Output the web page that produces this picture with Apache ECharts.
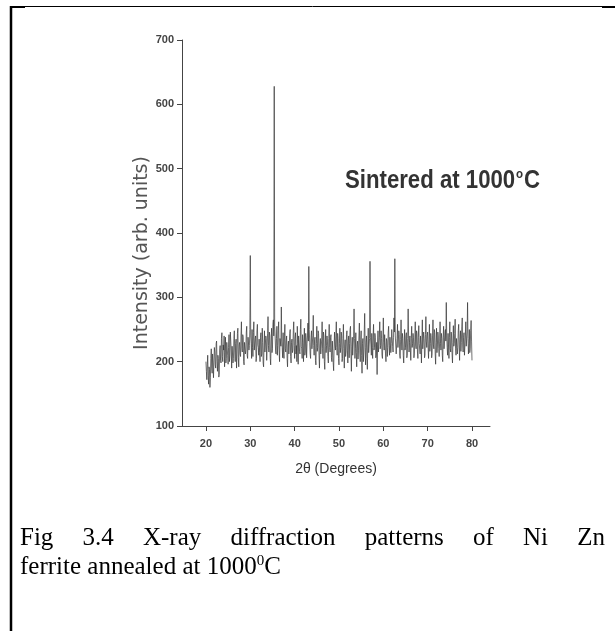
<!DOCTYPE html>
<html><head><meta charset="utf-8">
<script src="https://cdn.jsdelivr.net/npm/echarts@6/dist/echarts.min.js"></script>
<style>html,body{margin:0;padding:0;background:#fff}#c{width:615px;height:631px}</style>
</head><body><div id="c"></div>
<script>
// ---- data ----
const twoThetaStart = 20.0;   // degrees
const twoThetaStep = 0.1;     // degrees between readings
const intensity = [
  200,185,172,195,210,178,165,192,188,160,175,205,220,190,182,212,198,175,178,222,
  215,195,190,228,232,200,185,210,205,176,180,218,225,202,198,236,245,208,200,226,
  218,240,192,214,238,198,205,230,228,210,196,222,242,200,210,246,232,215,190,224,
  225,198,205,236,248,215,200,228,235,190,212,244,252,206,192,226,230,212,208,240,
  262,220,215,242,238,200,195,230,232,212,218,246,255,210,205,238,240,218,225,250,
  365,240,228,205,250,222,208,245,262,218,215,236,240,200,205,248,258,226,222,210,
  235,214,200,238,245,208,212,252,230,198,192,226,248,215,218,240,236,202,205,244,
  270,225,215,246,240,205,195,232,252,214,220,258,265,240,628,255,240,218,212,236,
  255,210,225,248,262,218,200,236,238,224,285,232,222,206,245,215,205,240,258,220,
  215,232,240,205,192,226,232,212,210,244,250,208,198,230,235,214,218,248,262,225,
  205,236,245,212,225,200,255,228,196,240,238,216,212,250,266,224,220,205,242,230,
  200,228,252,210,215,244,235,206,228,240,260,232,348,250,230,212,205,238,248,220,
  218,240,272,225,210,234,238,202,195,228,255,216,222,248,244,210,190,226,236,212,
  212,234,262,220,205,246,240,200,188,224,250,214,225,240,232,208,198,236,258,222,
  215,238,242,206,200,232,230,198,186,220,246,226,218,240,262,222,210,244,236,205,
  195,228,252,214,222,246,240,200,205,236,258,220,190,226,234,208,215,242,248,218,
  198,232,240,206,228,250,255,212,185,224,238,210,212,240,282,236,205,220,245,214,
  192,226,232,204,218,240,260,215,200,234,248,210,182,228,236,200,215,246,275,222,
  195,230,240,205,188,226,252,214,215,236,356,238,226,210,244,222,205,240,258,218,
  222,244,238,206,210,230,180,226,248,215,212,238,262,220,225,248,236,210,205,232,
  268,230,218,242,245,212,200,236,232,208,222,246,255,225,210,238,240,214,228,250,
  250,224,215,238,268,246,360,240,240,212,210,236,258,222,225,248,242,210,205,234,
  265,232,218,244,236,210,198,226,250,218,222,240,245,206,210,236,282,240,215,230,
  240,218,202,236,255,222,228,244,238,206,212,232,262,226,220,248,244,215,205,238,
  256,228,230,212,240,226,198,234,265,220,218,246,236,206,210,242,270,232,222,240,
  246,222,205,234,258,216,228,244,238,206,212,240,265,226,220,250,245,212,196,230,
  252,214,226,246,240,220,208,232,262,228,218,244,236,210,200,238,255,220,232,246,
  250,232,292,240,222,210,244,226,205,238,262,220,215,246,240,212,198,230,256,224,
  228,244,266,220,210,236,238,212,222,248,258,226,202,234,248,216,230,254,268,226,
  215,238,245,210,208,240,262,224,225,246,292,236,212,228,250,214,220,248,264,232,
  202
];
const xTickLabels = [20, 30, 40, 50, 60, 70, 80];
const yTickLabels = [100, 200, 300, 400, 500, 600, 700];
const xAxisTitle = '2θ (Degrees)';
const yAxisTitle = 'Intensity (arb. units)';
const annotation = ['Sintered at 1000', 'o', 'C'];
const captionLine1 = ['Fig', '3.4', 'X-ray', 'diffraction', 'patterns', 'of', 'Ni', 'Zn'];
const captionLine2 = ['ferrite annealed at 1000', '0', 'C'];

// ---- build ----
const points = intensity.map((v, i) => [+(twoThetaStart + i * twoThetaStep).toFixed(1), v]);

const serif = '"Liberation Serif","Times New Roman",serif';
const sans = '"Liberation Sans",Arial,sans-serif';
const capSize = 25;
const ctx = document.createElement('canvas').getContext('2d');
ctx.font = capSize + 'px ' + serif;
const widths = captionLine1.map(w => ctx.measureText(w).width);
const lineLeft = 20, lineRight = 605;
const gap = (lineRight - lineLeft - widths.reduce((a, b) => a + b, 0)) / (captionLine1.length - 1);
let cx = lineLeft;
const captionEls = captionLine1.map((w, i) => {
  const el = {type: 'text', x: cx, y: 538, style: {text: w, font: capSize + 'px ' + serif, fill: '#000', verticalAlign: 'middle', align: 'left'}};
  cx += widths[i] + gap;
  return el;
});
captionEls.push({
  type: 'text', x: lineLeft, y: 567,
  style: {
    text: '{n|' + captionLine2[0] + '}{s|' + captionLine2[1] + '}{n|' + captionLine2[2] + '}',
    verticalAlign: 'middle', align: 'left',
    rich: {
      n: {font: capSize + 'px ' + serif, fill: '#000'},
      s: {font: '15px ' + serif, fill: '#000', verticalAlign: 'top', padding: [0, 0, 12, 0]}
    }
  }
});

// annotation, horizontally condensed to match the narrow bold face of the original
const annSize = 25;
ctx.font = 'bold ' + annSize + 'px ' + sans;
let annW = ctx.measureText(annotation[0] + annotation[2]).width;
ctx.font = 'bold 13px ' + sans;
annW += ctx.measureText(annotation[1]).width + 2;
const annScale = 195 / annW;
const annotationEl = {
  type: 'text', x: 345, y: 181, scaleX: annScale,
  style: {
    text: '{a|' + annotation[0] + '}{s|' + annotation[1] + '}{a|' + annotation[2] + '}',
    verticalAlign: 'middle', align: 'left',
    rich: {
      a: {font: 'bold ' + annSize + 'px ' + sans, fill: '#333'},
      s: {font: 'bold 13px ' + sans, fill: '#333', verticalAlign: 'top', padding: [0, 1, 14, 1]}
    }
  }
};

const chart = echarts.init(document.getElementById('c'), null, {renderer: 'canvas'});
chart.setOption({
  animation: false,
  backgroundColor: '#fff',
  grid: {left: 182, top: 40, width: 308, height: 386, outerBoundsMode: 'none'},
  xAxis: {
    type: 'value', min: 14.6, max: 84.06,
    name: xAxisTitle, nameLocation: 'middle', nameGap: 36, nameMoveOverlap: false,
    nameTextStyle: {fontFamily: sans, fontSize: 14, color: '#333'},
    axisLine: {show: true, lineStyle: {color: '#444', width: 1}},
    axisTick: {show: true, length: 5, lineStyle: {color: '#444'}, customValues: xTickLabels},
    axisLabel: {customValues: xTickLabels, margin: 12, fontFamily: sans, fontWeight: 'bold', fontSize: 11, color: '#444'},
    splitLine: {show: false}
  },
  yAxis: {
    type: 'value', min: yTickLabels[0], max: yTickLabels[yTickLabels.length - 1], interval: 100,
    name: yAxisTitle, nameLocation: 'middle', nameGap: 30, nameRotate: 90, nameMoveOverlap: false,
    nameTextStyle: {fontFamily: '"DejaVu Sans",Verdana,sans-serif', fontSize: 19, color: '#555', padding: [0, 40, 0, 0]},
    axisLine: {show: true, lineStyle: {color: '#444', width: 1}},
    axisTick: {show: true, length: 5, lineStyle: {color: '#444'}},
    axisLabel: {margin: 8, fontFamily: sans, fontWeight: 'bold', fontSize: 11, color: '#444'},
    splitLine: {show: false}
  },
  series: [{
    type: 'line', data: points, showSymbol: false, symbol: 'none',
    lineStyle: {color: '#333', width: 0.7}
  }],
  graphic: [
    {type: 'line', shape: {x1: 11, y1: 6, x2: 11, y2: 631}, style: {stroke: '#000', lineWidth: 2.5}},
    {type: 'line', shape: {x1: 10, y1: 6.5, x2: 615, y2: 6.5}, style: {stroke: '#000', lineWidth: 1}},
    {type: 'line', shape: {x1: 10, y1: 7, x2: 25, y2: 7}, style: {stroke: '#000', lineWidth: 2}},
    {type: 'line', shape: {x1: 602, y1: 7, x2: 615, y2: 7}, style: {stroke: '#000', lineWidth: 2}},
    annotationEl
  ].concat(captionEls)
});
</script>
</body></html>
